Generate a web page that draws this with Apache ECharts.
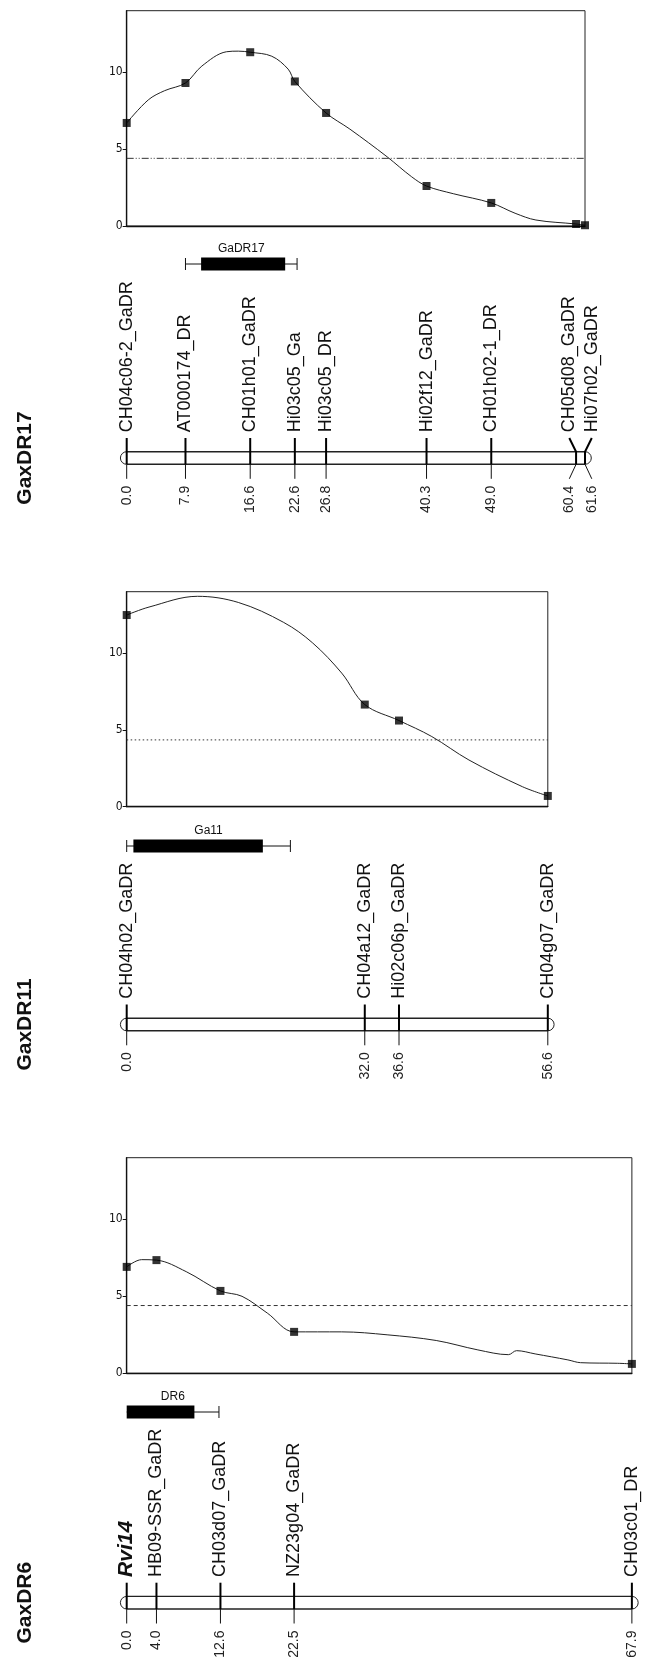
<!DOCTYPE html>
<html><head><meta charset="utf-8">
<script src="https://cdn.jsdelivr.net/npm/echarts@6/dist/echarts.min.js"></script>
<style>html,body{margin:0;padding:0;background:#fff}#c{width:646px;height:1658px}</style>
</head><body><div id="c"></div>
<script>
// ================= DATA =================
const titles = ['GaxDR17', 'GaxDR11', 'GaxDR6'];
const mapLengths = [61.6, 56.6, 67.9];
const yTickValues = [0, 5, 10];
const yMax = 14;

// --- GaxDR17 ---
const names17 = ['CH04c06-2_GaDR', 'AT000174_DR', 'CH01h01_GaDR', 'Hi03c05_Ga', 'Hi03c05_DR', 'Hi02f12_GaDR', 'CH01h02-1_DR', 'CH05d08_GaDR', 'Hi07h02_GaDR'];
const pos17 = [0.0, 7.9, 16.6, 22.6, 26.8, 40.3, 49.0, 60.4, 61.6];
const lod17 = [6.7, 9.3, 11.3, 9.4, 7.35, 2.6, 1.5, 0.13, 0.05];
const curveCM17 = [2.9, 5.1, 10.1, 13.4, 15.0, 19.5, 21.7, 30.0, 35.0, 38.3, 43.9, 52.2, 55.0];
const curveLod17 = [8.2, 8.8, 10.4, 11.33, 11.37, 11.04, 10.2, 6.3, 4.5, 3.2, 2.1, 0.83, 0.39];
const qtlName17 = 'GaDR17';
const qtl17 = [7.9, 10.0, 21.3, 22.9];
const thr17 = 4.4;

// --- GaxDR11 ---
const names11 = ['CH04h02_GaDR', 'CH04a12_GaDR', 'Hi02c06p_GaDR', 'CH04g07_GaDR'];
const pos11 = [0.0, 32.0, 36.6, 56.6];
const lod11 = [12.48, 6.65, 5.61, 0.7];
const curveCM11 = [3.0, 9.5, 15.0, 21.1, 25.0, 28.9, 41.0, 46.0, 53.2];
const curveLod11 = [13.0, 13.7, 13.3, 12.0, 10.66, 8.7, 4.57, 3.04, 1.3];
const qtlName11 = 'Ga11';
const qtl11 = [0.0, 0.9, 18.3, 22.0];
const thr11 = 4.35;

// --- GaxDR6 ---
const names6 = ['Rvi14', 'HB09-SSR_GaDR', 'CH03d07_GaDR', 'NZ23g04_GaDR', 'CH03c01_DR'];
const pos6 = [0.0, 4.0, 12.6, 22.5, 67.9];
const lod6 = [6.91, 7.35, 5.35, 2.69, 0.61];
const curveCM6 = [2.0, 8.0, 15.5, 18.9, 28.9, 35.0, 41.6, 47.2, 51.3, 52.4, 54.9, 59.3, 61.0, 66.0];
const curveLod6 = [7.38, 6.6, 5.0, 3.91, 2.69, 2.5, 2.13, 1.52, 1.21, 1.47, 1.26, 0.87, 0.69, 0.65];
const qtlName6 = 'DR6';
const qtl6 = [0.0, 0.0, 9.1, 12.4];
const thr6 = 4.4;

// ================= LAYOUT / STYLE =================
const LEFT = 126.7, PXCM = 7.44, PAGE_H = 1658;
const layout = [
  {lodTop: 10.7, lodBot: 226, qtlY: 264, chromY: 458, dash: [7, 2, 1, 2, 1, 2]},
  {lodTop: 591.7, lodBot: 806.7, qtlY: 846, chromY: 1024.5, dash: [1.5, 2.5]},
  {lodTop: 1157.7, lodBot: 1373.3, qtlY: 1412, chromY: 1602.7, dash: [4, 3]}
];
const FONT = '"Liberation Sans", Arial, "DejaVu Sans", sans-serif';
const CHROM_HALF = 6.3;

const panels = [
  {names: names17, pos: pos17, lod: lod17, cx: curveCM17, cy: curveLod17, qn: qtlName17, q: qtl17, thr: thr17},
  {names: names11, pos: pos11, lod: lod11, cx: curveCM11, cy: curveLod11, qn: qtlName11, q: qtl11, thr: thr11},
  {names: names6, pos: pos6, lod: lod6, cx: curveCM6, cy: curveLod6, qn: qtlName6, q: qtl6, thr: thr6}
];

function spread(xs, gap) {
  const out = xs.slice();
  for (let it = 0; it < 60; it++) {
    for (let k = 1; k < out.length; k++) {
      const d = out[k] - out[k - 1];
      if (d < gap) { const o = (gap - d) / 2; out[k - 1] -= o; out[k] += o; }
    }
  }
  return out;
}

const grid = [], xAxis = [], yAxis = [], series = [], graphics = [];

panels.forEach((P, p) => {
  const L = mapLengths[p], lay = layout[p];
  const width = L * PXCM;
  const gL = 2 * p, gM = 2 * p + 1;
  const mapTop = lay.lodBot;
  const mapBot = p < 2 ? layout[p + 1].lodTop : PAGE_H;

  grid.push({left: LEFT, top: lay.lodTop, width: width, height: lay.lodBot - lay.lodTop,
    show: true, borderColor: '#222', borderWidth: 1, backgroundColor: 'transparent'});
  grid.push({left: LEFT, top: mapTop, width: width, height: mapBot - mapTop, show: false});

  xAxis.push({type: 'value', gridIndex: gL, min: 0, max: L, axisLine: {show: true, lineStyle: {color: '#111', width: 1.3}},
    axisTick: {show: false}, axisLabel: {show: false}, splitLine: {show: false}});
  xAxis.push({type: 'value', gridIndex: gM, min: 0, max: L, show: false});

  yAxis.push({type: 'value', gridIndex: gL, min: 0, max: yMax,
    axisLine: {show: true, lineStyle: {color: '#111', width: 1.3}},
    axisTick: {show: true, length: 4, customValues: yTickValues, lineStyle: {color: '#111'}},
    axisLabel: {show: true, customValues: yTickValues, margin: 4, fontSize: 12, color: '#111',
      fontFamily: '"Liberation Sans Narrow", "DejaVu Sans Condensed", ' + FONT},
    splitLine: {show: false}});
  yAxis.push({type: 'value', gridIndex: gM, min: mapTop, max: mapBot, inverse: true, show: false});

  // LOD curve (markers + intermediate points)
  const pts = P.pos.map((v, i) => [v, P.lod[i]]).concat(P.cx.map((v, i) => [v, P.cy[i]]));
  pts.sort((a, b) => a[0] - b[0]);
  series.push({type: 'line', xAxisIndex: gL, yAxisIndex: gL, data: pts, showSymbol: false, symbol: 'none',
    smooth: 0.35, lineStyle: {color: '#222', width: 1}, silent: true, z: 3});
  // threshold
  series.push({type: 'line', xAxisIndex: gL, yAxisIndex: gL, data: [[0, P.thr], [L, P.thr]], symbol: 'none',
    lineStyle: {color: '#333', width: 1, type: lay.dash}, silent: true, z: 2});
  // markers
  series.push({type: 'scatter', xAxisIndex: gL, yAxisIndex: gL, data: P.pos.map((v, i) => [v, P.lod[i]]),
    symbol: 'rect', symbolSize: 8, itemStyle: {color: '#000'}, clip: false, silent: true, z: 4});

  const chromTop = lay.chromY - CHROM_HALF, chromBot = lay.chromY + CHROM_HALF;

  // QTL interval
  series.push({type: 'custom', xAxisIndex: gM, yAxisIndex: gM, clip: false, silent: true,
    data: [P.q],
    renderItem: (params, api) => {
      const wl = api.coord([api.value(0), lay.qtlY]), bl = api.coord([api.value(1), lay.qtlY]);
      const br = api.coord([api.value(2), lay.qtlY]), wr = api.coord([api.value(3), lay.qtlY]);
      const y = wl[1], h = 6.6, c = 6;
      const ch = [
        {type: 'line', shape: {x1: wl[0], y1: y, x2: wr[0], y2: y}, style: {stroke: '#111', lineWidth: 1}},
        {type: 'line', shape: {x1: wr[0], y1: y - c, x2: wr[0], y2: y + c}, style: {stroke: '#111', lineWidth: 1}},
        {type: 'rect', shape: {x: bl[0], y: y - h, width: br[0] - bl[0], height: 2 * h}, style: {fill: '#000'}},
        {type: 'text', x: (wl[0] + wr[0]) / 2, y: y - 15.5, style: {text: P.qn, font: '12px ' + FONT, fill: '#111', align: 'center', verticalAlign: 'middle'}}
      ];
      if (wl[0] < bl[0] - 0.5) ch.push({type: 'line', shape: {x1: wl[0], y1: y - c, x2: wl[0], y2: y + c}, style: {stroke: '#111', lineWidth: 1}});
      return {type: 'group', children: ch};
    }});

  // chromosome bar
  series.push({type: 'custom', xAxisIndex: gM, yAxisIndex: gM, clip: false, silent: true, z: 2,
    data: [[0, L]],
    renderItem: (params, api) => {
      const a = api.coord([api.value(0), chromTop]), b = api.coord([api.value(1), chromBot]);
      const st = {stroke: '#222', lineWidth: 1.4, fill: 'none'};
      const cy = (a[1] + b[1]) / 2, r = (b[1] - a[1]) / 2;
      return {type: 'group', children: [
        {type: 'line', shape: {x1: a[0], y1: a[1], x2: b[0], y2: a[1]}, style: st},
        {type: 'line', shape: {x1: a[0], y1: b[1], x2: b[0], y2: b[1]}, style: st},
        {type: 'arc', shape: {cx: a[0], cy: cy, r: r, startAngle: Math.PI / 2, endAngle: Math.PI * 1.5}, style: {stroke: '#222', lineWidth: 1, fill: 'none'}},
        {type: 'arc', shape: {cx: b[0], cy: cy, r: r, startAngle: -Math.PI / 2, endAngle: Math.PI / 2}, style: {stroke: '#222', lineWidth: 1, fill: 'none'}}
      ]};
    }});

  // marker ticks + names + positions
  series.push({type: 'custom', xAxisIndex: gM, yAxisIndex: gM, clip: false, silent: true, z: 3,
    data: P.pos.map((v, i) => [v, i]),
    renderItem: (params, api) => {
      const i = api.value(1);
      const xs = P.pos.map(v => api.coord([v, lay.chromY])[0]);
      const lx = spread(xs, 22.5)[i];
      const tx = xs[i];
      const tickTop = chromTop - 13.7, tickBot = chromBot + 14.5;
      const nameY = chromTop - 19.5, numY = chromBot + 21.5;
      const name = P.names[i];
      const isGene = name === 'Rvi14';
      return {type: 'group', children: [
        {type: 'polyline', shape: {points: [[tx, chromBot], [tx, chromTop], [lx, tickTop]]}, style: {stroke: '#000', lineWidth: 2, fill: 'none'}},
        {type: 'polyline', shape: {points: [[tx, chromBot], [lx, tickBot]]}, style: {stroke: '#111', lineWidth: 1, fill: 'none'}},
        {type: 'text', x: lx, y: nameY, rotation: Math.PI / 2,
          style: {text: name, font: (isGene ? 'italic bold 21px ' : '18px ') + FONT, fill: '#111', align: 'left', verticalAlign: 'middle'}},
        {type: 'text', x: lx, y: numY, rotation: Math.PI / 2,
          style: {text: P.pos[i].toFixed(1), font: '14px ' + FONT, fill: '#222', align: 'right', verticalAlign: 'middle'}}
      ]};
    }});

  graphics.push({type: 'text', x: 25, y: lay.chromY, rotation: Math.PI / 2,
    style: {text: titles[p], font: 'bold 21px ' + FONT, fill: '#111', align: 'center', verticalAlign: 'middle'}});
});

const chart = echarts.init(document.getElementById('c'), null, {renderer: 'canvas'});
chart.setOption({animation: false, backgroundColor: '#fff', grid, xAxis, yAxis, series, graphic: graphics});
</script>
</body></html>
